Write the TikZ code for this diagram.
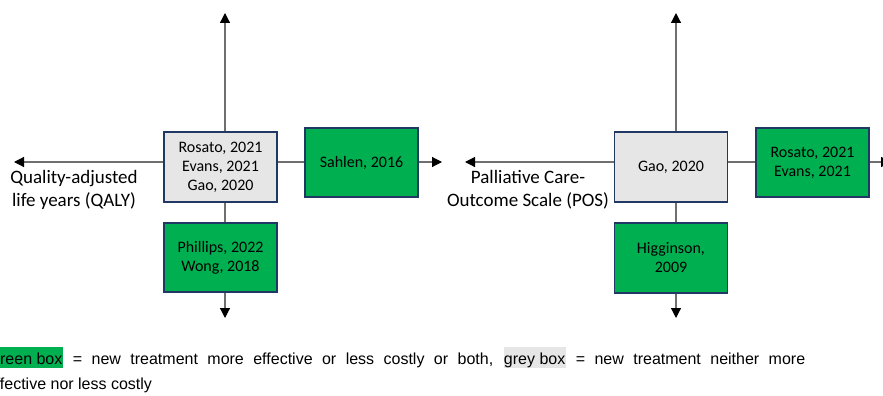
\documentclass[tikz,border=0pt]{standalone}
\usepackage{fontspec}
\setmainfont{Carlito}
\newfontfamily\legfont{Liberation Sans}
\usetikzlibrary{arrows.meta}
\definecolor{boxgreen}{HTML}{00B050}
\definecolor{boxgrey}{HTML}{E7E6E6}
\definecolor{hlgrey}{HTML}{E6E6E6}
\definecolor{boxline}{HTML}{1F3864}
\definecolor{axisgrey}{HTML}{6F6F6F}
\newcommand\hlbox[2]{{\setlength{\fboxsep}{0pt}\colorbox{#1}{\rule[-4pt]{0pt}{21pt}#2\kern1pt}}}
\begin{document}
\begin{tikzpicture}[x=1pt,y=-1pt,
  card/.style={draw=boxline,line width=1.8pt,minimum width=113pt,minimum height=69.5pt,inner sep=0pt,align=center,font=\fontsize{16}{19}\selectfont},
  greencard/.style={card,fill=boxgreen},
  greycard/.style={card,fill=boxgrey},
  axisline/.style={draw=axisgrey,line width=1.2pt,-{Triangle[length=10pt,width=10pt,black]}},
  axlabel/.style={align=center,font=\fontsize{19}{23}\selectfont,inner sep=0pt},
  legend/.style={anchor=base west,inner sep=0pt,font=\legfont\fontsize{16}{25}\selectfont}]
\useasboundingbox (0,0) rectangle (883,396);
\clip (0,0) rectangle (883,396);
% panel 1
\coordinate (o1) at (225,162);
\coordinate (n1) at (225,13);
\coordinate (s1) at (225,318);
\coordinate (w1) at (14,162);
\coordinate (e1) at (442,162);
\draw[axisline] (o1) -- (n1);
\draw[axisline] (o1) -- (s1);
\draw[axisline] (o1) -- (w1);
\draw[axisline] (o1) -- (e1);
\node[greycard] (g1) at (220.5,167) {Rosato, 2021\\Evans, 2021\\Gao, 2020};
\node[greencard] (r1) at (361.5,162.5) {Sahlen, 2016};
\node[greencard] (b1) at (220.5,257.5) {Phillips, 2022\\Wong, 2018};
\node[axlabel] (lab1) at (74,190) {Quality-adjusted\\life years (QALY)};
% panel 2
\coordinate (o2) at (676,162);
\coordinate (n2) at (676,13);
\coordinate (s2) at (676,318);
\coordinate (w2) at (465,162);
\coordinate (e2) at (891,162);
\draw[axisline] (o2) -- (n2);
\draw[axisline] (o2) -- (s2);
\draw[axisline] (o2) -- (w2);
\draw[axisline] (o2) -- (e2);
\node[greycard] (g2) at (671,167) {Gao, 2020};
\node[greencard] (r2) at (812.5,162.5) {Rosato, 2021\\Evans, 2021};
\node[greencard] (b2) at (671,258) {Higginson,\\2009};
\node[axlabel] (lab2) at (528,190) {Palliative Care-\\Outcome Scale (POS)};
% legend
\node[legend] (leg1) at (-12.5,364) {\hbox to 817.5pt{\hlbox{boxgreen}{Green box} = new treatment more effective or less costly or both, \hlbox{hlgrey}{grey box} = new treatment neither more}};
\node[legend] (leg2) at (-13.3,389) {effective nor less costly};
\end{tikzpicture}
\end{document}
